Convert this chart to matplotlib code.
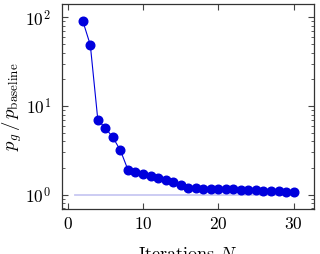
import numpy as np
import matplotlib
matplotlib.use('Agg')
import matplotlib.pyplot as plt
from matplotlib.ticker import LogLocator, NullFormatter

plt.rcParams['font.family'] = 'cmr10'
plt.rcParams['mathtext.fontset'] = 'cm'
plt.rcParams['axes.formatter.use_mathtext'] = True

iterations = [2, 3, 4, 5, 6, 7, 8, 9, 10, 11, 12, 13, 14, 15, 16,
              17, 18, 19, 20, 21, 22, 23, 24, 25, 26, 27, 28, 29, 30]
ratio = [91, 48.7, 6.95, 5.65, 4.43, 3.16, 1.91, 1.80, 1.73, 1.64, 1.56, 1.46, 1.38, 1.30, 1.19,
         1.18, 1.17, 1.16, 1.16, 1.15, 1.15, 1.14, 1.13, 1.12, 1.11, 1.10, 1.09, 1.07, 1.06]
baseline_x = [1, 30]
baseline_y = [1.0, 1.0]

fig, ax = plt.subplots(figsize=(3.2, 2.54), dpi=100)
plt.subplots_adjust(left=0.194, right=0.981, bottom=0.177, top=0.984)

ax.plot(baseline_x, baseline_y, '-', c='#c8c8f2', lw=1.3, zorder=1)
ax.plot(iterations, ratio, '-o', c='#0000dd', lw=0.8, ms=6.2, zorder=2)

ax.set_yscale('log')
ax.set_xlim([-0.75, 32.7])
ax.set_ylim([0.69, 141])
ax.set_xticks([0, 10, 20, 30])
ax.yaxis.set_major_locator(LogLocator(base=10, numticks=10))
ax.yaxis.set_minor_locator(LogLocator(base=10, subs=np.arange(2, 10), numticks=10))
ax.yaxis.set_minor_formatter(NullFormatter())
ax.tick_params(which='both', direction='in', top=True, right=True, labelsize=12.5, colors='#444444',
               labelcolor='black')
ax.tick_params(which='major', length=4)
ax.tick_params(which='minor', length=2.5)
ax.tick_params(axis='y', which='major', pad=8)
ax.tick_params(axis='x', which='major', pad=5)
for s in ax.spines.values():
    s.set_color('#333333')
    s.set_linewidth(0.9)

ax.set_ylabel(r'$p_g\,/\,p_{\mathrm{baseline}}$', fontsize=13.5, labelpad=1)
ax.set_xlabel(r'Iterations $N$', fontsize=13, labelpad=10)

plt.savefig('out.png', dpi=100)
